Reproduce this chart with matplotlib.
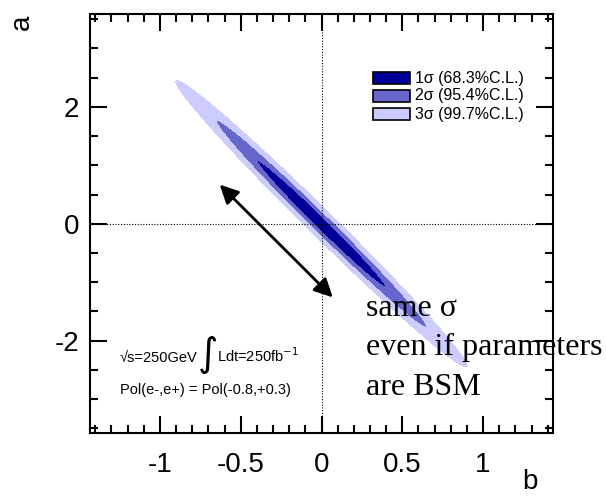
import numpy as np
import matplotlib
matplotlib.use("Agg")
import matplotlib.pyplot as plt
from matplotlib.patches import Rectangle

plt.rcParams['font.family'] = ['Liberation Sans', 'DejaVu Sans']

# fit result: widths of the (b, a) error ellipse and correlation
sigma_b = 0.262
sigma_a = 0.712
rho = -0.992
center = (0.0, 0.0)

# chi2 levels for 2 parameters: 1, 2, 3 sigma
levels = [0.0, 2.30, 6.18, 11.83]
colors = ['#000099', '#6666cc', '#ccccff']
labels = ['1\u03c3 (68.3%C.L.)', '2\u03c3 (95.4%C.L.)', '3\u03c3 (99.7%C.L.)']

arrow_from = (-0.63, 0.67)
arrow_to = (0.07, -1.26)

note_lines = ['same \u03c3', 'even if parameters', 'are BSM']

fig = plt.figure(figsize=(6.06, 4.97), dpi=100)
ax = fig.add_axes([90 / 606, 1 - 433 / 497, 463 / 606, 419 / 497])

b = np.linspace(-1.45, 1.45, 900)
a = np.linspace(-3.6, 3.6, 900)
B, A = np.meshgrid(b, a)
zb = (B - center[0]) / sigma_b
za = (A - center[1]) / sigma_a
chi2 = (zb**2 + za**2 - 2 * rho * zb * za) / (1 - rho**2)
ax.contourf(B, A, chi2, levels=levels, colors=colors, zorder=1)

ax.axvline(0, color='black', ls=(0, (1, 1.5)), lw=0.8, zorder=2)
ax.axhline(0, color='black', ls=(0, (1, 1.5)), lw=0.8, zorder=2)

ax.annotate('', xy=arrow_to, xytext=arrow_from,
            arrowprops=dict(arrowstyle='<|-|>', color='black', lw=2,
                            mutation_scale=28, shrinkA=0, shrinkB=0), zorder=3)

ax.set_xlim(-1.433, 1.433)
ax.set_ylim(-3.58, 3.59)
ax.set_xticks([-1, -0.5, 0, 0.5, 1])
ax.set_xticklabels(['-1', '-0.5', '0', '0.5', '1'])
ax.set_yticks([-2, 0, 2])
ax.set_yticklabels(['-2', '0', '2'])
ax.set_xticks(np.arange(-1.4, 1.41, 0.1), minor=True)
ax.set_yticks(np.arange(-3.5, 3.51, 0.5), minor=True)
ax.tick_params(which='both', direction='in', top=True, right=True, width=1.5,
               labelsize=20)
ax.tick_params(axis='x', pad=14)
ax.tick_params(axis='y', pad=8)
ax.tick_params(which='major', length=12)
ax.tick_params(which='minor', length=6)
for s in ax.spines.values():
    s.set_linewidth(1.5)

fig.text(530 / 606, 1 - 482 / 497, 'b', fontsize=20, ha='center', va='center')
fig.text(22 / 606, 1 - 22 / 497, 'a', fontsize=20, ha='center', va='center', rotation=90)

# legend drawn as boxes in figure coords
for i, (c, lab) in enumerate(zip(colors, labels)):
    y0 = 72 + i * 18
    fig.patches.append(Rectangle((373 / 606, 1 - (y0 + 12) / 497), 37 / 606, 12 / 497,
                                 facecolor=c, edgecolor='black', lw=1.2,
                                 transform=fig.transFigure, figure=fig))
    fig.text(415 / 606, 1 - (y0 + 6) / 497, lab, fontsize=11.5, ha='left', va='center')

fig.text(120 / 606, 1 - 362 / 497, '\u221as=250GeV', fontsize=10.5, ha='left', va='baseline')
fig.text(197 / 606, 1 - 366 / 497, r'$\int$', fontsize=20, ha='left', va='baseline')
fig.text(217 / 606, 1 - 362 / 497, r'Ldt=250fb$^{-1}$', fontsize=10.5, ha='left', va='baseline')
fig.text(120 / 606, 1 - 394 / 497, 'Pol(e-,e+) = Pol(-0.8,+0.3)', fontsize=10.5, ha='left', va='baseline')

for i, line in enumerate(note_lines):
    fig.text(366 / 606, 1 - (316 + i * 39.5) / 497, line,
             family=['Liberation Serif', 'DejaVu Serif'], fontsize=23,
             ha='left', va='baseline', zorder=10)

fig.savefig('out.png', dpi=100)
